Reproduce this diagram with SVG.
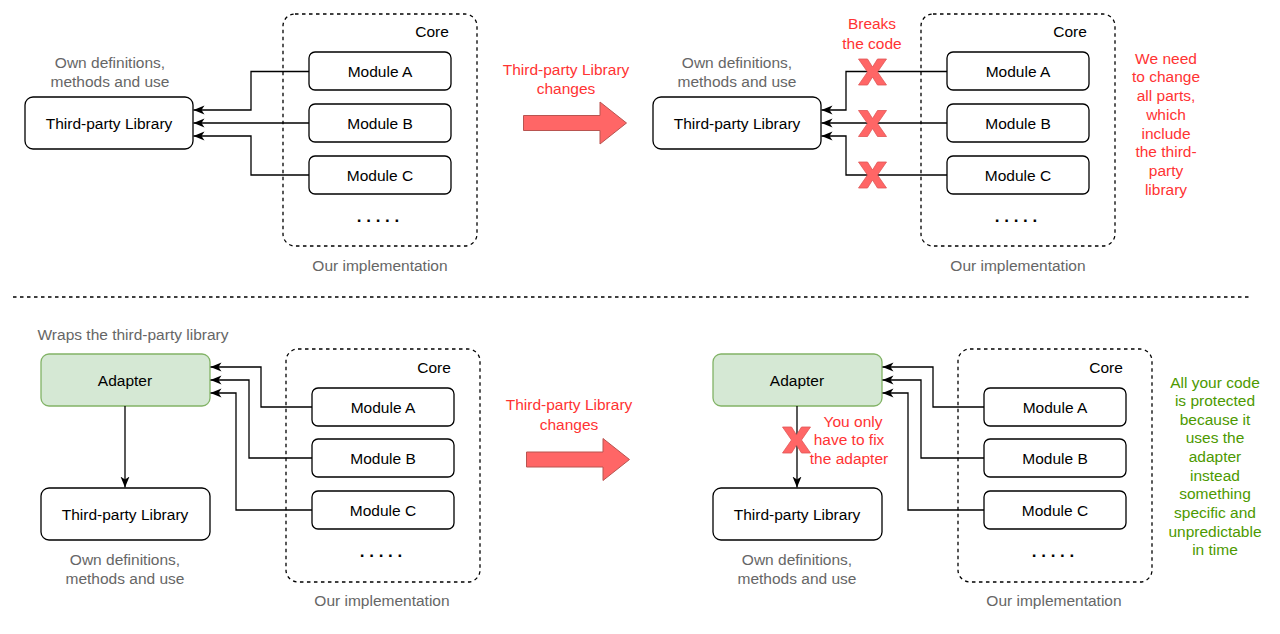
<svg xmlns="http://www.w3.org/2000/svg" width="1280" height="634" viewBox="0 0 1280 634">
<style>
text{font-family:"Liberation Sans",Arial,sans-serif;font-size:15.5px;text-anchor:middle}
.box{fill:#fff;stroke:#000;stroke-width:1.3}
.ad{fill:#d5e8d4;stroke:#82b366;stroke-width:1.3}
.core{fill:none;stroke:#000;stroke-width:1.3;stroke-dasharray:3.5 3.5}
.grey{fill:#666}
.red{fill:#ff3333}
.green{fill:#4d9900}
.conn{fill:none;stroke:#000;stroke-width:1.3}
.big{fill:#ff6666;stroke:#b85450;stroke-width:1}
.x{fill:#ff6666;stroke:#e05555;stroke-width:0.8}
.dots{font-size:17px;font-weight:bold}
</style>
<defs>
<marker id="ah" markerUnits="userSpaceOnUse" markerWidth="12" markerHeight="10" refX="11" refY="5" orient="auto">
<path d="M0,0.5 L11,5 L0,9.5 L3,5 Z" fill="#000"/>
</marker>
<path id="xm" d="M-14,-13 L-5,-13 L0,-5 L5,-13 L14,-13 L5,0 L14,13 L5,13 L0,5 L-5,13 L-14,13 L-5,0 Z"/>
</defs>

<!-- divider -->
<line x1="13" y1="297" x2="1250" y2="297" stroke="#000" stroke-width="1.3" stroke-dasharray="3.5 3.5"/>

<!-- ===== Top left ===== -->
<g id="tl-core"><rect class="core" x="283" y="14" width="194" height="232" rx="12"/><text x="432" y="37">Core</text><text class="dots" x="378" y="222">. . . . .</text></g>
<g id="tl-lib"><rect class="box" x="25" y="97" width="168" height="52" rx="8"/><text x="109" y="128.5">Third-party Library</text></g>
<g id="tl-a"><rect class="box" x="309" y="52" width="142" height="38" rx="6"/><text x="380" y="76.5">Module A</text></g>
<g id="tl-b"><rect class="box" x="309" y="104" width="142" height="38" rx="6"/><text x="380" y="128.5">Module B</text></g>
<g id="tl-c"><rect class="box" x="309" y="156" width="142" height="38" rx="6"/><text x="380" y="180.5">Module C</text></g>
<g id="tl-labels"><text class="grey" x="110" y="67.5">Own definitions,</text><text class="grey" x="110" y="87">methods and use</text><text class="grey" x="380" y="270.5">Our implementation</text></g>

<!-- ===== Top middle arrow ===== -->
<g id="t-change"><text class="red" x="566" y="74.5">Third-party Library</text><text class="red" x="566" y="94">changes</text>
<path class="big" d="M523.5,115.5 L600,115.5 L600,102 L626.5,123 L600,144 L600,130.5 L523.5,130.5 Z"/></g>

<!-- ===== Top right ===== -->
<g id="tr-core"><rect class="core" x="921" y="14" width="194" height="232" rx="12"/><text x="1070" y="37">Core</text><text class="dots" x="1016" y="222">. . . . .</text></g>
<g id="tr-lib"><rect class="box" x="653" y="97" width="168" height="52" rx="8"/><text x="737" y="128.5">Third-party Library</text></g>
<g id="tr-a"><rect class="box" x="947" y="52" width="142" height="38" rx="6"/><text x="1018" y="76.5">Module A</text></g>
<g id="tr-b"><rect class="box" x="947" y="104" width="142" height="38" rx="6"/><text x="1018" y="128.5">Module B</text></g>
<g id="tr-c"><rect class="box" x="947" y="156" width="142" height="38" rx="6"/><text x="1018" y="180.5">Module C</text></g>
<g id="tr-labels"><text class="grey" x="737" y="67.5">Own definitions,</text><text class="grey" x="737" y="87">methods and use</text><text class="grey" x="1018" y="270.5">Our implementation</text>
<text class="red" x="872" y="29">Breaks</text><text class="red" x="872" y="48.5">the code</text>
<text class="red" x="1166" y="63.5">We need</text><text class="red" x="1166" y="82">to change</text><text class="red" x="1166" y="101">all parts,</text><text class="red" x="1166" y="119.5">which</text><text class="red" x="1166" y="138.5">include</text><text class="red" x="1166" y="157">the third-</text><text class="red" x="1166" y="176">party</text><text class="red" x="1166" y="194.5">library</text></g>

<!-- ===== Bottom left ===== -->
<g id="bl-core"><rect class="core" x="286" y="349" width="194" height="233" rx="12"/><text x="434" y="372.5">Core</text><text class="dots" x="381" y="557">. . . . .</text></g>
<g id="bl-adapter"><rect class="ad" x="41" y="354" width="169" height="52" rx="8"/><text x="125" y="385.5">Adapter</text></g>
<g id="bl-lib"><rect class="box" x="41" y="488" width="169" height="52" rx="8"/><text x="125" y="519.5">Third-party Library</text></g>
<g id="bl-a"><rect class="box" x="312" y="388" width="142" height="38" rx="6"/><text x="383" y="412.5">Module A</text></g>
<g id="bl-b"><rect class="box" x="312" y="439" width="142" height="38" rx="6"/><text x="383" y="463.5">Module B</text></g>
<g id="bl-c"><rect class="box" x="312" y="491" width="142" height="38" rx="6"/><text x="383" y="515.5">Module C</text></g>
<g id="bl-labels"><text class="grey" x="133" y="339.5">Wraps the third-party library</text><text class="grey" x="125" y="564.5">Own definitions,</text><text class="grey" x="125" y="583.5">methods and use</text><text class="grey" x="382" y="605.5">Our implementation</text></g>

<!-- ===== Bottom middle arrow ===== -->
<g id="b-change"><text class="red" x="569" y="410">Third-party Library</text><text class="red" x="569" y="429.5">changes</text>
<path class="big" d="M526.5,452 L603,452 L603,438.5 L629.5,459.5 L603,480.5 L603,467 L526.5,467 Z"/></g>

<!-- ===== Bottom right ===== -->
<g id="br-core"><rect class="core" x="958" y="349" width="194" height="233" rx="12"/><text x="1106" y="372.5">Core</text><text class="dots" x="1053" y="557">. . . . .</text></g>
<g id="br-adapter"><rect class="ad" x="713" y="354" width="169" height="52" rx="8"/><text x="797" y="385.5">Adapter</text></g>
<g id="br-lib"><rect class="box" x="713" y="488" width="169" height="52" rx="8"/><text x="797" y="519.5">Third-party Library</text></g>
<g id="br-a"><rect class="box" x="984" y="388" width="142" height="38" rx="6"/><text x="1055" y="412.5">Module A</text></g>
<g id="br-b"><rect class="box" x="984" y="439" width="142" height="38" rx="6"/><text x="1055" y="463.5">Module B</text></g>
<g id="br-c"><rect class="box" x="984" y="491" width="142" height="38" rx="6"/><text x="1055" y="515.5">Module C</text></g>
<g id="br-labels"><text class="grey" x="797" y="564.5">Own definitions,</text><text class="grey" x="797" y="583.5">methods and use</text><text class="grey" x="1054" y="605.5">Our implementation</text>
<text class="red" x="853" y="427">You only</text><text class="red" x="849" y="445">have to fix</text><text class="red" x="849" y="464">the adapter</text>
<text class="green" x="1215" y="387.5">All your code</text><text class="green" x="1215" y="406">is protected</text><text class="green" x="1215" y="424.5">because it</text><text class="green" x="1215" y="443">uses the</text><text class="green" x="1215" y="461.5">adapter</text><text class="green" x="1215" y="480.5">instead</text><text class="green" x="1215" y="499">something</text><text class="green" x="1215" y="517.5">specific and</text><text class="green" x="1215" y="536.5">unpredictable</text><text class="green" x="1215" y="555">in time</text></g>

<!-- ===== Connectors ===== -->
<g id="connectors">
<path class="conn" marker-end="url(#ah)" d="M309,71.5 H251 V110 H193.5"/>
<path class="conn" marker-end="url(#ah)" d="M309,123 H193.5"/>
<path class="conn" marker-end="url(#ah)" d="M309,175 H251 V136 H193.5"/>
<path class="conn" marker-end="url(#ah)" d="M947,71.5 H846 V110 H821.5"/>
<path class="conn" marker-end="url(#ah)" d="M947,123 H821.5"/>
<path class="conn" marker-end="url(#ah)" d="M947,175 H846 V136 H821.5"/>
<path class="conn" marker-end="url(#ah)" d="M312,407 H261 V367 H210.5"/>
<path class="conn" marker-end="url(#ah)" d="M312,458 H249 V380 H210.5"/>
<path class="conn" marker-end="url(#ah)" d="M312,510 H236 V393 H210.5"/>
<path class="conn" marker-end="url(#ah)" d="M125,406 V487.5"/>
<path class="conn" marker-end="url(#ah)" d="M984,407 H933 V367 H882.5"/>
<path class="conn" marker-end="url(#ah)" d="M984,458 H921 V380 H882.5"/>
<path class="conn" marker-end="url(#ah)" d="M984,510 H908 V393 H882.5"/>
<path class="conn" marker-end="url(#ah)" d="M797,406 V487.5"/>
</g>

<!-- X marks -->
<g id="x-marks">
<use href="#xm" class="x" x="872.5" y="72"/>
<use href="#xm" class="x" x="872.5" y="123.5"/>
<use href="#xm" class="x" x="872.5" y="175"/>
<use href="#xm" class="x" x="796.5" y="440"/>
</g>
</svg>
